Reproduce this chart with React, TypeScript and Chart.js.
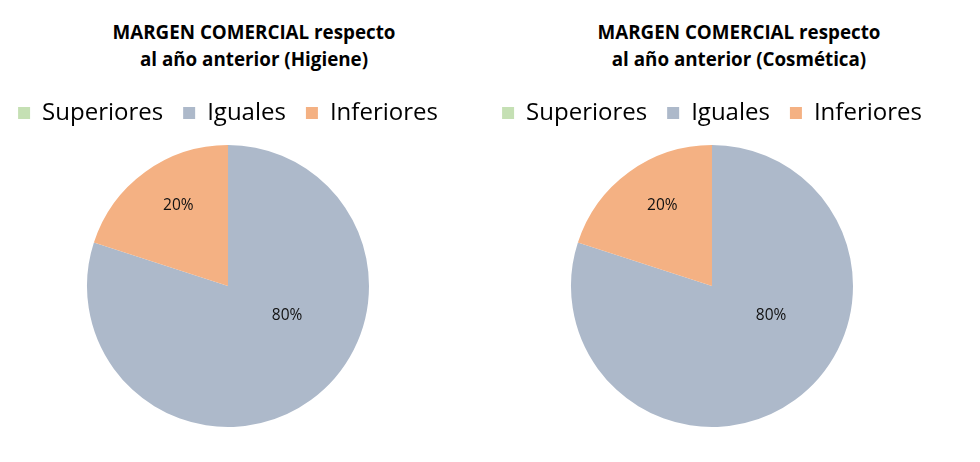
import React, { useEffect, useRef } from 'react';
import { Chart, registerables } from 'chart.js';

Chart.register(...registerables);

const categories = ['Superiores', 'Iguales', 'Inferiores'];
const higieneValues = [0, 80, 20];
const cosmeticaValues = [0, 80, 20];
const titleHigiene = ['MARGEN COMERCIAL respecto', 'al año anterior (Higiene)'];
const titleCosmetica = ['MARGEN COMERCIAL respecto', 'al año anterior (Cosmética)'];
const sliceColors = ['#C5E0B4', '#ADB9CA', '#F4B183'];

// label placement inside each slice: fraction of slice angle, fraction of radius
const labelPlacement = [
  { angle: 0.5, radius: 0.6 },
  { angle: 0.406, radius: 0.47 },
  { angle: 0.56, radius: 0.67 },
];

const pctLabels = {
  id: 'pctLabels',
  afterDatasetsDraw(chart: any) {
    const meta = chart.getDatasetMeta(0);
    const data = chart.data.datasets[0].data as number[];
    const total = data.reduce((a: number, b: number) => a + b, 0);
    const ctx = chart.ctx;
    ctx.save();
    ctx.font = '15.5px "Open Sans"';
    ctx.fillStyle = '#111111';
    ctx.textAlign = 'center';
    ctx.textBaseline = 'middle';
    meta.data.forEach((arc: any, i: number) => {
      const v = data[i];
      if (!v) return;
      const p = arc.getProps(['x', 'y', 'startAngle', 'endAngle', 'outerRadius'], true);
      const place = labelPlacement[i];
      const a = p.startAngle + (p.endAngle - p.startAngle) * place.angle;
      const r = p.outerRadius * place.radius;
      ctx.fillText(Math.round((v / total) * 100) + '%', p.x + Math.cos(a) * r, p.y + Math.sin(a) * r);
    });
    ctx.restore();
  },
};

const CANVAS_W = 540;

function PiePanel(props: { values: number[]; title: string[]; left: number; padRight: number; titleCenter: number }) {
  const ref = useRef<HTMLCanvasElement>(null);
  useEffect(() => {
    if (!ref.current) return;
    const chart = new Chart(ref.current, {
      type: 'pie',
      data: {
        labels: categories,
        datasets: [
          {
            data: props.values,
            backgroundColor: sliceColors,
            borderWidth: 0,
            radius: 141,
          } as any,
        ],
      },
      options: {
        responsive: false,
        animation: false,
        layout: { padding: { top: 81, bottom: 25, left: 0, right: props.padRight } },
        plugins: {
          legend: {
            position: 'top',
            labels: {
              boxWidth: 12,
              boxHeight: 12,
              padding: 20,
              color: '#000000',
              font: { family: '"Open Sans"', size: 24 },
            },
          },
          title: { display: false },
          tooltip: { enabled: false },
        },
      },
      plugins: [pctLabels],
    });
    return () => chart.destroy();
  }, []);
  return (
    <>
      <div
        style={{
          position: 'absolute',
          left: props.titleCenter - 200,
          top: 19,
          width: 400,
          textAlign: 'center',
          fontFamily: '"Open Sans", sans-serif',
          fontWeight: 700,
          fontSize: 18.8,
          lineHeight: '27px',
          color: '#000',
        }}
      >
        {props.title[0]}
        <br />
        {props.title[1]}
      </div>
      <canvas
        ref={ref}
        width={CANVAS_W}
        height={462}
        style={{ position: 'absolute', left: props.left, top: 0, width: CANVAS_W, height: 462 }}
      />
    </>
  );
}

export default function App() {
  return (
    <div style={{ position: 'fixed', left: 0, top: 0, width: 980, height: 462, background: '#fff', overflow: 'hidden' }}>
      <PiePanel values={higieneValues} title={titleHigiene} left={-25} padRight={34} titleCenter={254} />
      <PiePanel values={cosmeticaValues} title={titleCosmetica} left={465} padRight={46} titleCenter={739} />
    </div>
  );
}
